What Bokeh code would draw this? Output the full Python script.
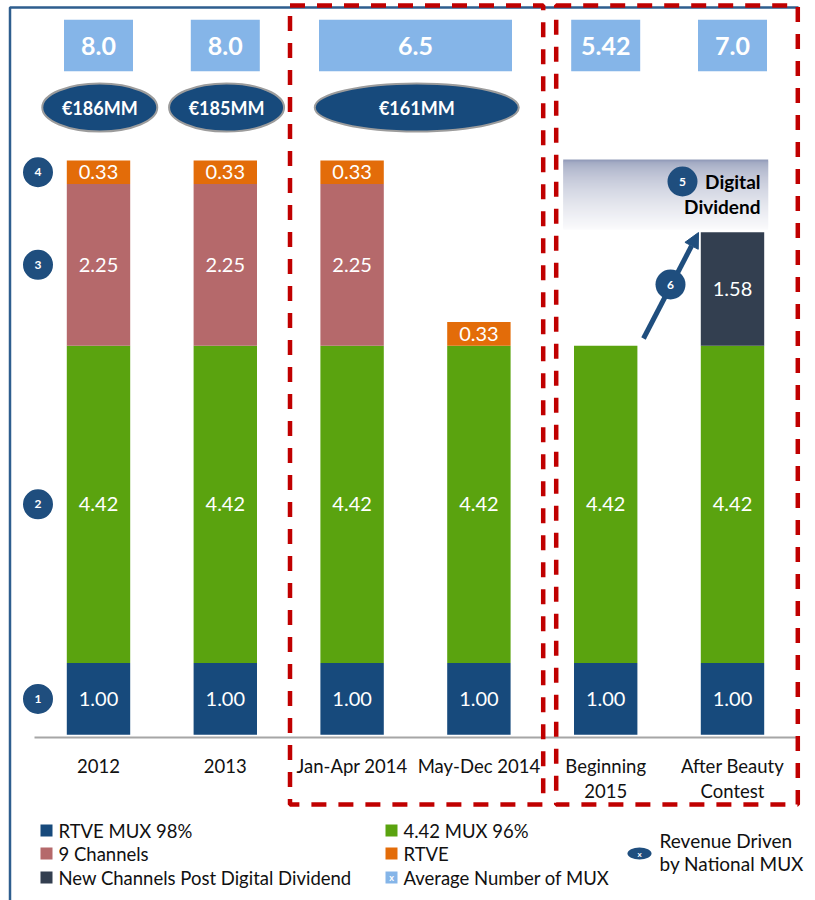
import numpy as np
from bokeh.plotting import figure
from bokeh.models import Range1d, Arrow, NormalHead, ColumnDataSource
from bokeh.core.properties import value
from bokeh.embed import file_html
from bokeh.resources import INLINE

# ---------------- data ----------------
categories = ["2012", "2013", "Jan-Apr 2014", "May-Dec 2014", "Beginning\n2015", "After Beauty\nContest"]
rtve_mux = [1.00, 1.00, 1.00, 1.00, 1.00, 1.00]
mux_442 = [4.42, 4.42, 4.42, 4.42, 4.42, 4.42]
nine_channels = [2.25, 2.25, 2.25, 0.0, 0.0, 0.0]
rtve = [0.33, 0.33, 0.33, 0.33, 0.0, 0.0]
new_channels = [0.0, 0.0, 0.0, 0.0, 0.0, 1.58]
series_names = ["RTVE MUX 98%", "4.42 MUX 96%", "9 Channels", "RTVE",
                "New Channels Post Digital Dividend"]

avg_mux_labels = ["8.0", "8.0", "6.5", "5.42", "7.0"]
avg_mux_spans = [(0, 0), (1, 1), (2, 3), (4, 4), (5, 5)]
revenue_labels = ["€186MM", "€185MM", "€161MM"]
revenue_spans = [(0, 0), (1, 1), (2, 3)]
step_numbers = ["1", "2", "3", "4"]

# ---------------- styles ----------------
C_BLUE = "#174A7C"
C_GREEN = "#5AA30F"
C_ROSE = "#B5696B"
C_ORANGE = "#E36C09"
C_DARK = "#333F50"
C_LIGHT = "#85B5E8"
C_NAVY = "#1F4E7E"
C_RED = "#C00000"
series_colors = [C_BLUE, C_GREEN, C_ROSE, C_ORANGE, C_DARK]
FONT = value("Lato")

W, H = 815, 900
X0, DX = 98.0, 126.8      # pixel x of first category, pixels per category
Y0, S = 734.3, 71.8       # pixel y (from top) of baseline, pixels per unit


def X(px):
    return (px - X0) / DX


def Y(py):
    return (Y0 - py) / S


p = figure(width=W, height=H, x_range=Range1d(X(0), X(W)), y_range=Range1d(Y(H), Y(0)),
           x_axis_type=None, y_axis_type=None, toolbar_location=None,
           output_backend="svg", min_border=0, outline_line_color=None,
           background_fill_color="white", border_fill_color="white")

# outer blue frame
p.line([X(9.5), X(9.5), X(798)], [Y(905), Y(7), Y(7)], line_color="#2E5E8E", line_width=2.5)

# ---------------- stacked bars ----------------
idx = list(range(len(categories)))
keys = ["rtve_mux", "mux_442", "nine", "rtve", "new"]
series = [rtve_mux, mux_442, nine_channels, rtve, new_channels]
src = ColumnDataSource(dict(x=idx, **{k: v for k, v in zip(keys, series)}))
p.vbar_stack(keys, x="x", width=0.5, color=series_colors, line_color=None, source=src)

arr = np.array(series)
bottoms = np.vstack([np.zeros(arr.shape[1]), np.cumsum(arr, axis=0)[:-1]])
lx, ly, lt = [], [], []
for s_i in range(arr.shape[0]):
    for c_i in range(arr.shape[1]):
        v = arr[s_i, c_i]
        if v > 0:
            lx.append(c_i)
            ly.append(bottoms[s_i, c_i] + v / 2)
            lt.append(f"{v:.2f}")
p.text(lx, ly, text=lt, text_color="white", text_font=FONT, text_font_size="20px",
       text_align="center", text_baseline="middle")

# baseline
p.line([X(34), X(797)], [0 - 2.7 / S, 0 - 2.7 / S], line_color="#A6A6A6", line_width=2)

# category labels (split into lines)
first_lines = [c.split("\n")[0] for c in categories]
second_x = [i for i, c in enumerate(categories) if "\n" in c]
second_lines = [c.split("\n")[1] for c in categories if "\n" in c]
p.text(idx, [Y(765)] * len(idx), text=first_lines, text_font=FONT, text_font_size="18.5px",
       text_color="#111111", text_align="center", text_baseline="middle")
p.text(second_x, [Y(790)] * len(second_x), text=second_lines, text_font=FONT,
       text_font_size="18.5px", text_color="#111111", text_align="center", text_baseline="middle")

# ---------------- average number of MUX boxes ----------------
bx = [(a + b) / 2 for a, b in avg_mux_spans]
bw = [69 / DX + (b - a) * 124 / DX for a, b in avg_mux_spans]
p.rect(bx, [Y(45)] * len(bx), width=bw, height=51.7 / S, fill_color=C_LIGHT, line_color=None)
p.text(bx, [Y(45)] * len(bx), text=avg_mux_labels, text_color="white", text_font=FONT,
       text_font_size="25px", text_font_style="bold", text_align="center", text_baseline="middle")

# ---------------- revenue ellipses ----------------
ex = [(a + b) / 2 + 0.01 for a, b in revenue_spans]
ew = [115 / DX + (b - a) * 89 / DX for a, b in revenue_spans]
p.ellipse(ex, [Y(107)] * len(ex), width=ew, height=48 / S, fill_color=C_BLUE,
          line_color="#9C9C9C", line_width=2)
p.text(ex, [Y(107)] * len(ex), text=revenue_labels, text_color="white", text_font=FONT,
       text_font_size="18px", text_font_style="bold", text_align="center", text_baseline="middle")

# ---------------- numbered circles for the first bar ----------------
cy = [bottoms[k, 0] + arr[k, 0] / 2 for k in range(4)]
p.scatter([X(37.5)] * 4, cy, size=30, fill_color=C_NAVY, line_color=None)
p.text([X(37.5)] * 4, cy, text=step_numbers, text_color="white", text_font=FONT,
       text_font_size="12px", text_font_style="bold", text_align="center", text_baseline="middle")

# ---------------- Digital Dividend gradient box ----------------
n_strips = 35
top_px, bot_px = 159.0, 229.0
c0 = np.array([148, 157, 186])
c1 = np.array([250, 250, 252])
edges = np.linspace(top_px, bot_px, n_strips + 1)
for k in range(n_strips):
    t = (k / (n_strips - 1)) ** 0.55
    c = (c0 + (c1 - c0) * t).astype(int)
    bottom_px = min(edges[k + 1] + 1.0, bot_px)
    p.quad(left=X(562.7), right=X(767.7), top=Y(edges[k]), bottom=Y(bottom_px),
           fill_color="#%02x%02x%02x" % tuple(c), line_color=None)
p.text([X(760), X(760)], [Y(181), Y(206)], text=["Digital", "Dividend"], text_color="black",
       text_font=FONT, text_font_size="19px", text_font_style="bold",
       text_align="right", text_baseline="middle")

# arrow 6 (drawn under the glyphs so the numbered circle sits on top)
p.add_layout(Arrow(x_start=X(643), y_start=Y(338), x_end=X(698), y_end=Y(232),
                   line_color=C_NAVY, line_width=5, level="underlay",
                   end=NormalHead(size=15, fill_color=C_NAVY, line_color=C_NAVY)))
p.scatter([X(682), X(670)], [Y(181), Y(284)], size=30, fill_color=C_NAVY, line_color=None)
p.text([X(682), X(670)], [Y(181), Y(284)], text=["5", "6"], text_color="white", text_font=FONT,
       text_font_size="12px", text_font_style="bold", text_align="center", text_baseline="middle")

# ---------------- red dashed group boxes ----------------
for l, r in [(289.5, 542.7), (555.7, 797.3)]:
    p.quad(left=X(l), right=X(r), top=Y(5), bottom=Y(804), fill_color=None,
           line_color=C_RED, line_width=4.5, line_dash="15 12")

# ---------------- legend ----------------
LEG_FS = "18.5px"
rows = [830, 853, 877]
leg_items = [(0, 0, 0), (1, 0, 1), (0, 1, 2), (1, 1, 3), (0, 2, 4)]
col_marker = [46, 391]
col_text = [58, 403]
for col, row, s_i in leg_items:
    p.scatter([X(col_marker[col])], [Y(rows[row])], marker="square", size=12,
              fill_color=series_colors[s_i], line_color=None)
    p.text([X(col_text[col])], [Y(rows[row])], text=[series_names[s_i]], text_font=FONT,
           text_font_size=LEG_FS, text_color="#111111", text_align="left", text_baseline="middle")
p.scatter([X(col_marker[1])], [Y(rows[2])], marker="square", size=12,
          fill_color=C_LIGHT, line_color=None)
p.text([X(col_marker[1])], [Y(rows[2])], text=["x"], text_font=FONT, text_font_size="9px",
       text_color="white", text_align="center", text_baseline="middle", text_font_style="bold")
p.text([X(col_text[1])], [Y(rows[2])], text=["Average Number of MUX"], text_font=FONT,
       text_font_size=LEG_FS, text_color="#111111", text_align="left", text_baseline="middle")

p.ellipse([X(639)], [Y(853)], width=24 / DX, height=12 / S, fill_color=C_NAVY, line_color=None)
p.text([X(639)], [Y(853)], text=["x"], text_font=FONT, text_font_size="8px", text_color="white",
       text_align="center", text_baseline="middle", text_font_style="bold")
p.text([X(659), X(659)], [Y(840), Y(863)], text=["Revenue Driven", "by National MUX"],
       text_font=FONT, text_font_size="19px", text_color="#111111", text_align="left",
       text_baseline="middle")

open("out.html", "w").write(file_html(p, INLINE))
